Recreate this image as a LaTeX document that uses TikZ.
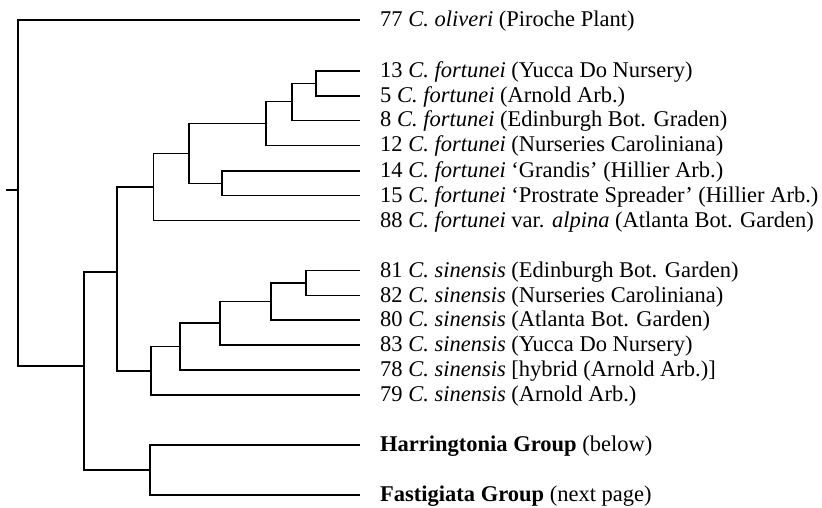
\documentclass[tikz,border=0pt]{standalone}
\usepackage{fontspec}
\setmainfont{Liberation Serif}
\begin{document}
\begin{tikzpicture}[x=1pt,y=-1pt,
  branch/.style={line width=1.6pt, line cap=rect, line join=miter},
  leaflabel/.style={anchor=base west, inner sep=0pt, font=\fontsize{22.5}{25}\selectfont}]
\useasboundingbox (0,0) rectangle (822,508);
% leaf tips
\foreach \n/\y in {77/20, 13/71, 5/96, 8/120.5, 12/145.5, 14/171, 15/195.5, 88/220.5,
  81/270.5, 82/295.5, 80/320, 83/345, 78/370, 79/395, H/445, F/495}
  {\coordinate (t\n) at (359,\y);}
% internal nodes
\coordinate (nA) at (316,83.5);
\coordinate (nB) at (292,101.5);
\coordinate (nC) at (266,123.5);
\coordinate (nD) at (222,183.3);
\coordinate (nE) at (189,153.4);
\coordinate (nF) at (153.5,187);
\coordinate (nI) at (306,283);
\coordinate (nJ) at (271,301.5);
\coordinate (nK) at (220,323);
\coordinate (nL) at (180,346.5);
\coordinate (nM) at (151,371);
\coordinate (nG) at (117,272);
\coordinate (nN) at (150,470);
\coordinate (nH) at (84,366);
\coordinate (nR) at (18,190);
\coordinate (stub) at (7,190);
% branches
\draw[branch] (t13) -| (nA) |- (t5);
\draw[branch] (nA) -| (nB) |- (t8);
\draw[branch] (nB) -| (nC) |- (t12);
\draw[branch] (t14) -| (nD) |- (t15);
\draw[branch] (nC) -| (nE) |- (nD);
\draw[branch] (nE) -| (nF) |- (t88);
\draw[branch] (t81) -| (nI) |- (t82);
\draw[branch] (nI) -| (nJ) |- (t80);
\draw[branch] (nJ) -| (nK) |- (t83);
\draw[branch] (nK) -| (nL) |- (t78);
\draw[branch] (nL) -| (nM) |- (t79);
\draw[branch] (nF) -| (nG) |- (nM);
\draw[branch] (tH) -| (nN) |- (tF);
\draw[branch] (nG) -| (nH) |- (nN);
\draw[branch] (t77) -| (nR) |- (nH);
\draw[branch] (stub) -- (nR);
% labels
\node[leaflabel] (L77) at (380,26.5) {77 \textit{C. oliveri} (Piroche Plant)};
\node[leaflabel] (L13) at (380,77.5) {13 \textit{C. fortunei} (Yucca Do Nursery)};
\node[leaflabel] (L5) at (380,102.5) {5 \textit{C. fortunei} (Arnold Arb.)};
\node[leaflabel] (L8) at (380,127) {8 \textit{C. fortunei} (Edinburgh Bot. Graden)};
\node[leaflabel] (L12) at (380,152) {12 \textit{C. fortunei} (Nurseries Caroliniana)};
\node[leaflabel] (L14) at (380,177.5) {14 \textit{C. fortunei} ‘Grandis’ (Hillier Arb.)};
\node[leaflabel] (L15) at (380,202) {15 \textit{C. fortunei} ‘Prostrate Spreader’ (Hillier Arb.)};
\node[leaflabel] (L88) at (380,227) {88 \textit{C. fortunei} var. \textit{alpina} (Atlanta Bot. Garden)};
\node[leaflabel] (L81) at (380,277) {81 \textit{C. sinensis} (Edinburgh Bot. Garden)};
\node[leaflabel] (L82) at (380,302) {82 \textit{C. sinensis} (Nurseries Caroliniana)};
\node[leaflabel] (L80) at (380,326.5) {80 \textit{C. sinensis} (Atlanta Bot. Garden)};
\node[leaflabel] (L83) at (380,351.5) {83 \textit{C. sinensis} (Yucca Do Nursery)};
\node[leaflabel] (L78) at (380,376.5) {78 \textit{C. sinensis} [hybrid (Arnold Arb.)]};
\node[leaflabel] (L79) at (380,401.5) {79 \textit{C. sinensis} (Arnold Arb.)};
\node[leaflabel] (LH) at (380,451.5) {\textbf{Harringtonia Group} (below)};
\node[leaflabel] (LF) at (380,501.5) {\textbf{Fastigiata Group} (next page)};
\end{tikzpicture}
\end{document}
